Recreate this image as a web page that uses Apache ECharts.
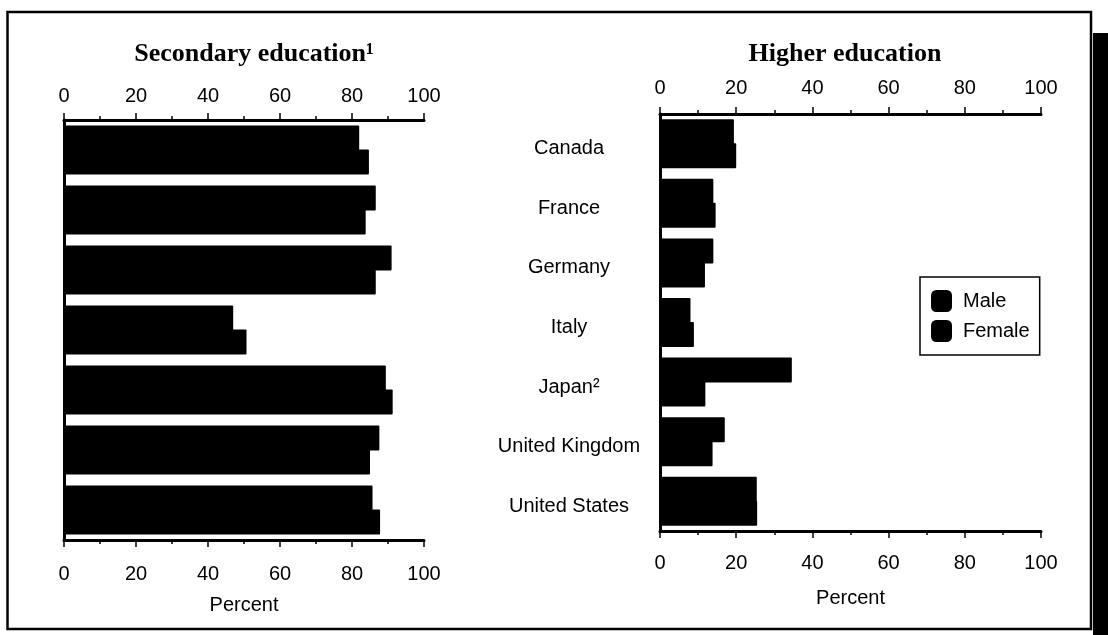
<!DOCTYPE html>
<html>
<head>
<meta charset="utf-8">
<script src="https://cdn.jsdelivr.net/npm/echarts@6/dist/echarts.min.js"></script>
<style>
html,body{margin:0;padding:0;background:#fff;}
#chart{width:1108px;height:635px;}
</style>
</head>
<body>
<div id="chart"></div>
<script>
var categories = ['Canada', 'France', 'Germany', 'Italy', 'Japan²', 'United Kingdom', 'United States'];
var secondaryMale = [82, 86.6, 91, 47, 89.4, 87.6, 85.7];
var secondaryFemale = [84.7, 83.8, 86.6, 50.7, 91.3, 85, 87.8];
var higherMale = [19.4, 14, 14, 8, 34.6, 17, 25.4];
var higherFemale = [20, 14.6, 11.8, 8.9, 11.9, 13.8, 25.5];
var tickLabels = ['0', '20', '40', '60', '80', '100'];
var seriesNames = ['Male', 'Female'];
var panelTitles = ['Secondary education¹', 'Higher education'];
var axisName = 'Percent';

var sans = '"Liberation Sans", Arial, Helvetica, sans-serif';
var serif = '"Liberation Serif", "Times New Roman", serif';

function valueAxis(gridIndex, pos, withName, topMargin, bottomMargin, nameGap) {
  var ax = {
    type: 'value', gridIndex: gridIndex, position: pos,
    min: 0, max: 100, interval: 20,
    axisLine: {show: true, onZero: false, lineStyle: {color: '#000', width: 3}},
    axisTick: {show: true, length: 7, lineStyle: {color: '#000', width: 1.5}},
    minorTick: {show: true, splitNumber: 2, length: 4, lineStyle: {color: '#000', width: 1.5}},
    splitLine: {show: false},
    axisLabel: {
      color: '#000', fontFamily: sans, fontSize: 20,
      margin: pos === 'top' ? topMargin : bottomMargin,
      formatter: function (v) { return tickLabels[Math.round(v / 20)]; }
    }
  };
  if (withName) {
    ax.name = axisName;
    ax.nameLocation = 'middle';
    ax.nameGap = nameGap;
    ax.nameTextStyle = {color: '#000', fontFamily: sans, fontSize: 20};
  }
  return ax;
}

function catAxis(gridIndex, showLabels) {
  return {
    type: 'category', gridIndex: gridIndex, data: categories, inverse: true,
    axisLine: {show: true, lineStyle: {color: '#000', width: 3}},
    axisTick: {show: false},
    axisLabel: showLabels ? {
      show: true, color: '#000', fontFamily: sans, fontSize: 20,
      align: 'center', margin: 91, verticalAlign: 'top', lineHeight: 10
    } : {show: false}
  };
}

function barSeries(name, xi, yi, data) {
  return {
    type: 'bar', name: name, xAxisIndex: xi, yAxisIndex: yi, data: data,
    barWidth: 25, barGap: '-4%',
    itemStyle: {color: '#000', borderRadius: 1},
    emphasis: {disabled: true},
    animation: false
  };
}

var chart = echarts.init(document.getElementById('chart'), null, {renderer: 'canvas'});
chart.setOption({
  backgroundColor: '#fff',
  animation: false,
  title: [
    {text: panelTitles[0], left: 249, top: 36, textAlign: 'center',
     textStyle: {fontFamily: serif, fontSize: 26, fontWeight: 'bold', color: '#000'}},
    {text: panelTitles[1], left: 840, top: 36, textAlign: 'center',
     textStyle: {fontFamily: serif, fontSize: 26, fontWeight: 'bold', color: '#000'}}
  ],
  legend: {
    data: seriesNames,
    orient: 'vertical',
    left: 920, top: 277,
    padding: [13, 10, 13, 11],
    itemWidth: 21, itemHeight: 22, itemGap: 8,
    icon: 'roundRect',
    borderColor: '#000', borderWidth: 1.5,
    backgroundColor: '#fff',
    textStyle: {color: '#000', fontFamily: sans, fontSize: 20, padding: [0, 0, 0, 6]},
    selectedMode: false
  },
  grid: [
    {left: 64, right: 1108 - 424, top: 120, bottom: 635 - 540, containLabel: false},
    {left: 660, right: 1108 - 1041, top: 114, bottom: 635 - 531, containLabel: false}
  ],
  xAxis: [
    valueAxis(0, 'top', false, 14, 24, 55),
    valueAxis(0, 'bottom', true, 14, 24, 55),
    valueAxis(1, 'top', false, 16, 22, 57),
    valueAxis(1, 'bottom', true, 16, 22, 57)
  ],
  yAxis: [catAxis(0, false), catAxis(1, true)],
  series: [
    barSeries(seriesNames[0], 0, 0, secondaryMale),
    barSeries(seriesNames[1], 0, 0, secondaryFemale),
    barSeries(seriesNames[0], 2, 1, higherMale),
    barSeries(seriesNames[1], 2, 1, higherFemale)
  ],
  graphic: [
    {type: 'rect', shape: {x: 7.5, y: 12, width: 1083.5, height: 617},
     style: {fill: null, stroke: '#000', lineWidth: 2.5}, z: 100, silent: true},
    {type: 'rect', shape: {x: 1093, y: 33, width: 15, height: 602},
     style: {fill: '#000'}, z: 100, silent: true}
  ]
});
</script>
</body>
</html>
